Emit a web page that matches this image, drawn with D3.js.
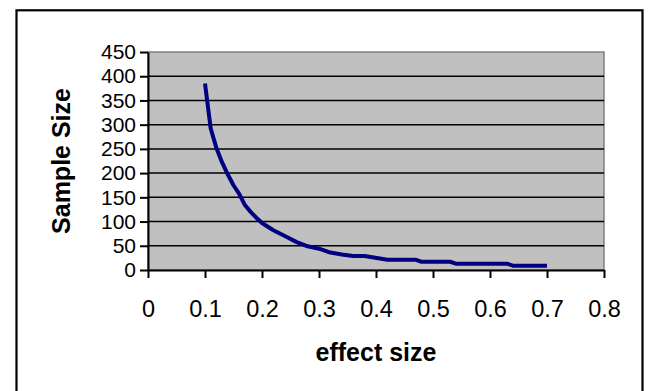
<!DOCTYPE html>
<html>
<head>
<meta charset="utf-8">
<script src="https://cdn.jsdelivr.net/npm/d3@7"></script>
<style>
  body { margin: 0; background: #fff; }
  svg { display: block; font-family: Arial, "Liberation Sans", sans-serif; }
</style>
</head>
<body>
<svg id="chart"></svg>
<script>
// data
var effectSize = [0.10, 0.11, 0.12, 0.13, 0.14, 0.15, 0.16, 0.17, 0.18, 0.19, 0.20,
                  0.22, 0.24, 0.26, 0.28, 0.30, 0.32, 0.34, 0.36, 0.38, 0.42, 0.47,
                  0.48, 0.53, 0.54, 0.63, 0.64, 0.70];
var sampleSize = [385, 292, 252, 222, 197, 175, 157, 134, 120, 108, 97,
                  82, 70, 58, 49, 44, 36, 32, 29, 29, 21, 21,
                  17, 17, 13, 13, 9, 9];
var xTicks = [0, 0.1, 0.2, 0.3, 0.4, 0.5, 0.6, 0.7, 0.8];
var yTicks = [0, 50, 100, 150, 200, 250, 300, 350, 400, 450];

var data = effectSize.map(function(d, i) { return {e: d, n: sampleSize[i]}; });

var W = 650, H = 391;
var margin = {top: 52, right: 46, bottom: 121, left: 148},
    width = W - margin.left - margin.right,
    height = H - margin.top - margin.bottom;

var root = d3.select("#chart").attr("width", W).attr("height", H);

// outer chart border
root.append("rect")
  .attr("x", 16.5).attr("y", 10.3)
  .attr("width", 626).attr("height", 400)
  .attr("fill", "none")
  .attr("stroke", "#000")
  .attr("stroke-width", 2.2);

var svg = root.append("g")
  .attr("transform", "translate(" + margin.left + "," + margin.top + ")");

var x = d3.scaleLinear().domain([0, 0.8]).range([0, width]);
var y = d3.scaleLinear().domain([0, 450]).range([height, 0]);

// plot area
svg.append("rect")
  .attr("width", width).attr("height", height)
  .attr("fill", "#c0c0c0")
  .attr("stroke", "#808080")
  .attr("stroke-width", 1.5);

// gridlines
svg.selectAll(".grid")
  .data(yTicks.filter(function(d) { return d > 0 && d < 450; }))
  .enter().append("line")
  .attr("x1", 0).attr("x2", width)
  .attr("y1", function(d) { return y(d); })
  .attr("y2", function(d) { return y(d); })
  .attr("stroke", "#000")
  .attr("stroke-width", 1.5);

// Y axis (labels packed tight like the original)
var yAxis = svg.append("g")
  .call(d3.axisLeft(y).tickValues(yTicks).tickSize(8).tickPadding(4).tickSizeOuter(0));
yAxis.attr("font-size", 21).attr("font-family", "Arial, 'Liberation Sans', sans-serif");
yAxis.select(".domain").attr("stroke", "#000").attr("stroke-width", 2);
yAxis.selectAll(".tick line").attr("stroke", "#000").attr("stroke-width", 2);
yAxis.selectAll("text").attr("fill", "#000");

// X axis
var xAxis = svg.append("g")
  .attr("transform", "translate(0," + height + ")")
  .call(d3.axisBottom(x).tickValues(xTicks).tickSize(8).tickPadding(22).tickSizeOuter(0)
        .tickFormat(function(d) { return d === 0 ? "0" : d3.format(".1f")(d); }));
xAxis.attr("font-size", 23.5).attr("font-family", "Arial, 'Liberation Sans', sans-serif");
xAxis.select(".domain").attr("stroke", "#000").attr("stroke-width", 2);
xAxis.selectAll(".tick line").attr("stroke", "#000").attr("stroke-width", 2);
xAxis.selectAll("text").attr("fill", "#000");

// the curve
var line = d3.line()
  .x(function(d) { return x(d.e); })
  .y(function(d) { return y(d.n); });

svg.append("path")
  .datum(data)
  .attr("fill", "none")
  .attr("stroke", "#000080")
  .attr("stroke-width", 4)
  .attr("stroke-linejoin", "round")
  .attr("d", line);

// axis titles
svg.append("text")
  .attr("x", width / 2)
  .attr("y", height + 91)
  .attr("text-anchor", "middle")
  .attr("font-size", "25px")
  .attr("font-weight", "bold")
  .text("effect size");

svg.append("text")
  .attr("transform", "translate(-78," + (height / 2) + ")rotate(-90)")
  .attr("text-anchor", "middle")
  .attr("font-size", "25px")
  .attr("font-weight", "bold")
  .text("Sample Size");
</script>
</body>
</html>
